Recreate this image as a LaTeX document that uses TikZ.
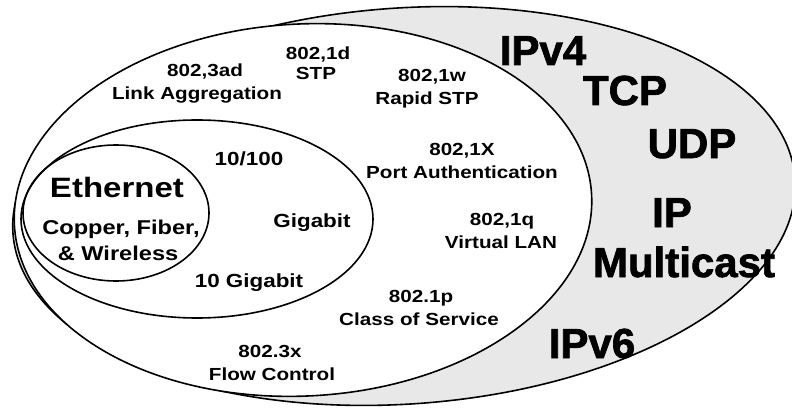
\documentclass[tikz,border=0pt]{standalone}
\usepackage{fontspec}
\setmainfont{Liberation Sans}
% slightly widened face for the standard labels
\newfontfamily\widefont{Liberation Sans}[FakeStretch=1.18]
% extra-heavy face for the protocol names
\newfontfamily\heavyfont{Liberation Sans}[BoldFeatures={FakeBold=1.6}]

\tikzset{
  ring/.style={draw=black, line width=1.6pt},
  stdlbl/.style={anchor=base, inner sep=0pt, font=\widefont\bfseries\fontsize{17.5}{20}\selectfont},
  medlbl/.style={anchor=base, inner sep=0pt, font=\widefont\bfseries\fontsize{19}{22}\selectfont},
  ethlbl/.style={anchor=base, inner sep=0pt, font=\widefont\bfseries\fontsize{28}{32}\selectfont},
  medialbl/.style={anchor=base, inner sep=0pt, font=\widefont\bfseries\fontsize{20}{24}\selectfont},
  protolbl/.style={anchor=base, inner sep=0pt, font=\heavyfont\bfseries\fontsize{42}{46}\selectfont},
}

\begin{document}
\begin{tikzpicture}[x=1pt, y=-1pt]
  \useasboundingbox (0,0) rectangle (792,409);
  \fill[white] (0,0) rectangle (792,409);

  % nested scopes: IP layer, 802 standards, speeds, media
  \draw[ring, fill=black!9, rotate around={4:(404,206)}]
    (404,206) ellipse [x radius=392pt, y radius=198pt];
  \draw[ring, fill=white, rotate around={3:(303,210)}]
    (303,210) ellipse [x radius=289pt, y radius=186pt];
  \draw[ring] (197,219) ellipse [x radius=176pt, y radius=99pt];
  \draw[ring] (116,213) ellipse [x radius=93pt,  y radius=68pt];

  % IEEE 802 features
  \node[stdlbl] (lagA) at (205,77)  {802,3ad};
  \node[stdlbl] (lagB) at (197,100) {Link Aggregation};
  \node[stdlbl] (stpA) at (318,60)  {802,1d};
  \node[stdlbl] (stpB) at (316,80)  {STP};
  \node[stdlbl] (rstpA) at (432,82) {802,1w};
  \node[stdlbl] (rstpB) at (427,105) {Rapid STP};
  \node[stdlbl] (authA) at (462,155) {802,1X};
  \node[stdlbl] (authB) at (462,178) {Port Authentication};
  \node[stdlbl] (vlanA) at (502,225) {802,1q};
  \node[stdlbl] (vlanB) at (501,248) {Virtual LAN};
  \node[stdlbl] (cosA) at (421,302) {802.1p};
  \node[stdlbl] (cosB) at (419,325) {Class of Service};
  \node[stdlbl] (flowA) at (270,357) {802.3x};
  \node[stdlbl] (flowB) at (272,380) {Flow Control};

  % speeds
  \node[medlbl] (sp100) at (249,165) {10/100};
  \node[medlbl] (spgig) at (312,227) {Gigabit};
  \node[medlbl] (sp10g) at (249,287) {10 Gigabit};

  % media
  \node[ethlbl]   (eth)   at (117,197) {Ethernet};
  \node[medialbl] (mediaA) at (121,234) {Copper, Fiber,};
  \node[medialbl] (mediaB) at (118,260) {\& Wireless};

  % IP protocols
  \node[protolbl] (ipv4) at (543,65)  {IPv4};
  \node[protolbl] (tcp)  at (625,105) {TCP};
  \node[protolbl] (udp)  at (692,158) {UDP};
  \node[protolbl] (ip)   at (672,227) {IP};
  \node[protolbl] (mcast) at (684,277) {Multicast};
  \node[protolbl] (ipv6) at (592,358) {IPv6};
\end{tikzpicture}
\end{document}
